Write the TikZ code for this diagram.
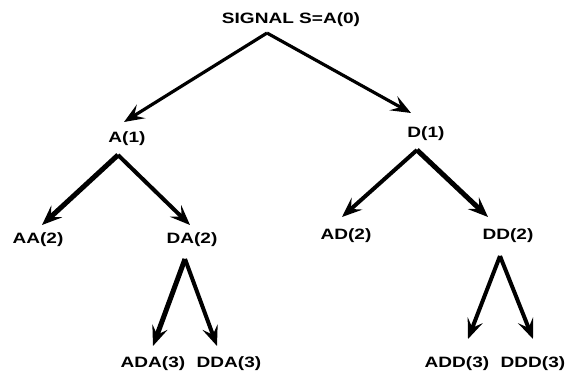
\documentclass[tikz,border=0pt]{standalone}
\usepackage{fontspec}
\setmainfont{Liberation Sans}
\usetikzlibrary{arrows.meta}
\newcommand{\mylab}[1]{\scalebox{1.27}[1]{#1}}
\tikzset{
  lab/.style={inner sep=0pt, font=\fontsize{15}{16}\selectfont\bfseries},
  arr/.style={line width=#1, -{Stealth[length=20pt,width=16pt,inset=8pt]}},
  arr/.default=4pt
}
\begin{document}
\begin{tikzpicture}[x=1pt,y=-1pt]
\useasboundingbox (0,0) rectangle (566,377);
% labels
\node[lab] (s)   at (291,20)  {\mylab{SIGNAL S=A(0)}};
\node[lab] (a1)  at (127,139) {\mylab{A(1)}};
\node[lab] (d1)  at (426,134) {\mylab{D(1)}};
\node[lab] (aa2) at (38,240)  {\mylab{AA(2)}};
\node[lab] (da2) at (192,240) {\mylab{DA(2)}};
\node[lab] (ad2) at (346,236) {\mylab{AD(2)}};
\node[lab] (dd2) at (508,236) {\mylab{DD(2)}};
\node[lab] (ada3) at (153,364) {\mylab{ADA(3)}};
\node[lab] (dda3) at (229,364) {\mylab{DDA(3)}};
\node[lab] (add3) at (457,364) {\mylab{ADD(3)}};
\node[lab] (ddd3) at (533,364) {\mylab{DDD(3)}};
% apex and tip points
\coordinate (s-ap)  at (267,33);
\coordinate (a1-tip) at (124,122);
\coordinate (d1-tip) at (411,113);
\coordinate (a1-ap) at (118,155);
\coordinate (d1-ap) at (417,150);
\coordinate (aa2-tip) at (42,225);
\coordinate (da2-tip) at (190,225);
\coordinate (ad2-tip) at (342,217);
\coordinate (dd2-tip) at (488,217);
\coordinate (da2-ap) at (185,259);
\coordinate (dd2-ap) at (500,256);
\coordinate (ada3-tip) at (153,346);
\coordinate (dda3-tip) at (217,346);
\coordinate (add3-tip) at (468,339);
\coordinate (ddd3-tip) at (533,339);
% connectors
\draw[arr=3.2pt] (s-ap) -- (a1-tip);
\draw[arr=3.2pt] (s-ap) -- (d1-tip);
\draw[arr=5pt] (a1-ap) -- (aa2-tip);
\draw[arr=4pt] (a1-ap) -- (da2-tip);
\draw[arr=4pt] (d1-ap) -- (ad2-tip);
\draw[arr=5pt] (d1-ap) -- (dd2-tip);
\draw[arr=5pt] (da2-ap) -- (ada3-tip);
\draw[arr=4pt] (da2-ap) -- (dda3-tip);
\draw[arr=4pt] (dd2-ap) -- (add3-tip);
\draw[arr=4pt] (dd2-ap) -- (ddd3-tip);
\end{tikzpicture}
\end{document}
